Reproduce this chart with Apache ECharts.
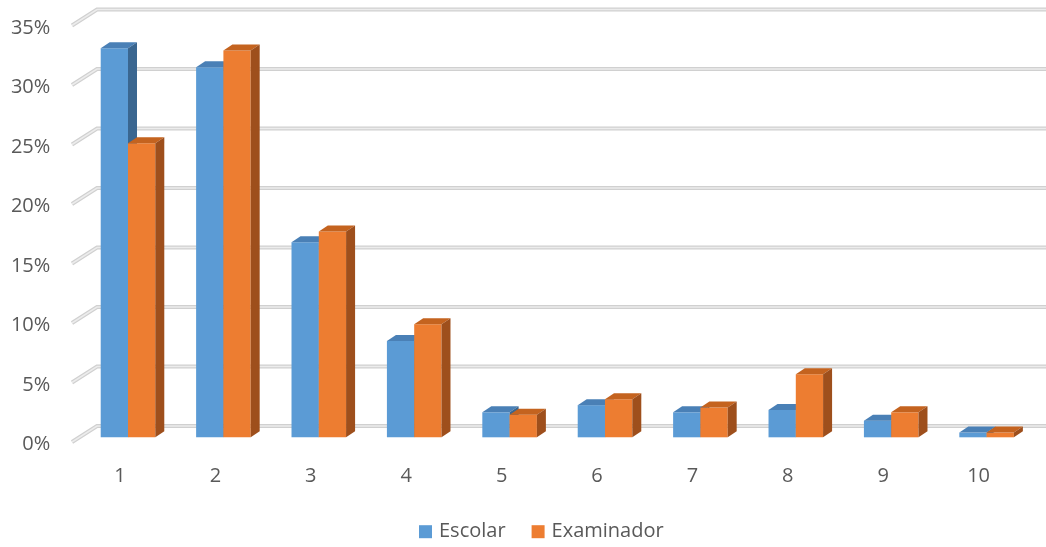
<!DOCTYPE html>
<html>
<head>
<meta charset="utf-8">
<script src="https://cdn.jsdelivr.net/npm/echarts@6/dist/echarts.min.js"></script>
<style>html,body{margin:0;padding:0;background:#fff;}#c{width:1046px;height:547px;}</style>
</head>
<body>
<div id="c"></div>
<script>
const CATEGORIES = ['1','2','3','4','5','6','7','8','9','10'];
const ESCOLAR = [32.7, 31.1, 16.4, 8.1, 2.1, 2.7, 2.1, 2.3, 1.4, 0.4];
const EXAMINADOR = [24.7, 32.5, 17.3, 9.5, 1.9, 3.2, 2.5, 5.3, 2.1, 0.4];
const Y_TICKS = [0, 5, 10, 15, 20, 25, 30, 35];

const FONT = '"Open Sans", "Liberation Sans", sans-serif';
const TXT = '#595959';
// oblique depth offsets (pixels) relative to the bar front plane
const FRONT = [-8.3, 4.7];
const BACK = [16.7, -11.3];
const BAR_DEPTH = [9, -6];
const BAR_FRAC = 0.286;

function gridItem(params, api) {
  const v = api.value(1);
  const cs = params.coordSys;
  const y = api.coord([0, v])[1];
  const left = cs.x, right = cs.x + cs.width;
  const pts = [
    [left + FRONT[0], y + FRONT[1]],
    [left + BACK[0], y + BACK[1]],
    [right + BACK[0] + 20, y + BACK[1]]
  ];
  return {
    type: 'group',
    children: [
      {type: 'polyline', shape: {points: pts}, style: {stroke: '#d0d0d0', lineWidth: 4, fill: null}},
      {type: 'polyline', shape: {points: pts}, style: {stroke: '#ececec', lineWidth: 1.5, fill: null}}
    ]
  };
}

function barRenderer(side, front, top, sideCol) {
  return function (params, api) {
    const i = api.value(0);
    const v = api.value(1);
    const pTop = api.coord([i, v]);
    const pBase = api.coord([i, 0]);
    const w = api.size([1, 0])[0] * BAR_FRAC;
    const x0 = pTop[0] + side * w;
    const x1 = x0 + w;
    const yt = pTop[1], yb = pBase[1];
    const dx = BAR_DEPTH[0], dy = BAR_DEPTH[1];
    return {
      type: 'group',
      children: [
        {type: 'polygon', shape: {points: [[x0, yt], [x1, yt], [x1, yb], [x0, yb]]}, style: {fill: front}},
        {type: 'polygon', shape: {points: [[x0, yt], [x1, yt], [x1 + dx, yt + dy], [x0 + dx, yt + dy]]}, style: {fill: top}},
        {type: 'polygon', shape: {points: [[x1, yt], [x1 + dx, yt + dy], [x1 + dx, yb + dy], [x1, yb]]}, style: {fill: sideCol}}
      ]
    };
  };
}

const chart = echarts.init(document.getElementById('c'), null, {renderer: 'canvas'});
chart.setOption({
  animation: false,
  backgroundColor: '#ffffff',
  grid: {left: 80.3, right: 11.7, top: 20.8, bottom: 109.7, containLabel: false},
  xAxis: {
    type: 'category',
    data: CATEGORIES,
    axisLine: {show: false},
    axisTick: {show: false},
    splitLine: {show: false},
    axisLabel: {color: TXT, fontSize: 20, fontFamily: FONT, margin: 29, padding: [0, 16, 0, 0]}
  },
  yAxis: {
    type: 'value',
    min: 0, max: 35, interval: 5,
    axisLine: {show: false},
    axisTick: {show: false},
    splitLine: {show: false},
    axisLabel: {color: TXT, fontSize: 20, fontFamily: FONT, margin: 30, verticalAlign: 'top', lineHeight: 14, formatter: '{value}%'}
  },
  legend: {
    data: ['Escolar', 'Examinador'],
    left: 414, top: 515.7,
    icon: 'rect',
    itemWidth: 13, itemHeight: 13, itemGap: 26,
    textStyle: {color: TXT, fontSize: 20, fontFamily: FONT, padding: [0, 0, 0, 2], lineHeight: 22}
  },
  series: [
    {
      type: 'custom', name: 'grid', silent: true, clip: false,
      renderItem: gridItem,
      data: Y_TICKS.map(t => [0, t]),
      z: 1
    },
    {
      type: 'custom', name: 'Escolar', clip: false,
      itemStyle: {color: '#5B9BD5'},
      renderItem: barRenderer(-1, '#5B9BD5', '#4A80B6', '#3A6690'),
      data: ESCOLAR.map((v, i) => [i, v]),
      z: 2
    },
    {
      type: 'custom', name: 'Examinador', clip: false,
      itemStyle: {color: '#ED7D31'},
      renderItem: barRenderer(0, '#ED7D31', '#C4631F', '#9E4F1C'),
      data: EXAMINADOR.map((v, i) => [i, v]),
      z: 3
    }
  ]
});
</script>
</body>
</html>
